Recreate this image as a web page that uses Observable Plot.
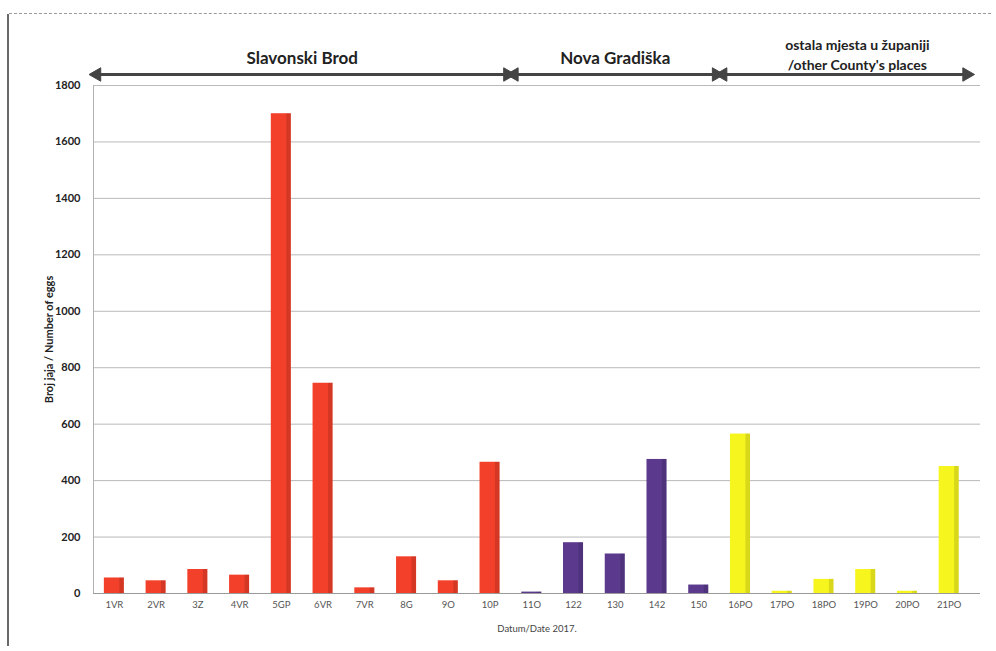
<!DOCTYPE html>
<html>
<head>
<meta charset="utf-8">
<script src="https://cdn.jsdelivr.net/npm/d3@7"></script>
<script src="https://cdn.jsdelivr.net/npm/@observablehq/plot@0.6"></script>
<style>
  body { margin: 0; background: #fff; }
  #chart { position: relative; width: 996px; height: 651px; overflow: hidden; }
  #frame-top { position: absolute; left: 9px; top: 13px; width: 982px; border-top: 1px dashed #9a9a9a; }
  #frame-left { position: absolute; left: 7px; top: 14px; height: 632px; border-left: 2px solid #6a6a6a; }
  #chart svg { position: absolute; left: 0; top: 0; font-family: Lato, "Open Sans", sans-serif; }
  g[aria-label="y-axis tick label"] text { font-weight: bold; fill: #222; }
  g[aria-label="y-axis label"] text { font-weight: bold; fill: #222; }
  g[aria-label="x-axis tick label"] text { fill: #555; }
  g[aria-label="x-axis label"] text { fill: #444; }
</style>
</head>
<body>
<div id="chart"><div id="frame-top"></div><div id="frame-left"></div></div>
<script>
const categories = ["1VR","2VR","3Z","4VR","5GP","6VR","7VR","8G","9O","10P","11O","122","130","142","150","16PO","17PO","18PO","19PO","20PO","21PO"];
const eggs = [55,45,85,65,1700,745,20,130,45,465,5,180,140,475,30,565,8,50,85,8,450];
const groupNames = ["Slavonski Brod","Nova Gradiška","ostala mjesta u županiji\n/other County's places"];
const groupFirst = [0,10,15];
const groupLast = [9,14,20];
const groupColors = ["#f2402b","#5b3a8e","#f7f51e"];
const yTicks = [0,200,400,600,800,1000,1200,1400,1600,1800];

const groupOf = i => groupFirst.findIndex((f, g) => i >= f && i <= groupLast[g]);
const data = categories.map((c, i) => ({i, cat: c, eggs: eggs[i], group: groupOf(i)}));
const groups = groupNames.map((name, g) => ({name, first: groupFirst[g], last: groupLast[g]}));
const ends = groups.flatMap(g => [
  {x: g.first - 0.42, dir: -90},
  {x: g.last + 0.42, dir: 90}
]);

const plot = Plot.plot({
  width: 996,
  height: 651,
  marginLeft: 93,
  marginRight: 16,
  marginTop: 85,
  marginBottom: 58,
  style: {fontFamily: "Lato, 'Open Sans', sans-serif", background: "transparent"},
  x: {domain: [-0.5, 20.75], axis: null},
  y: {domain: [0, 1800], axis: null},
  marks: [
    Plot.gridY(yTicks, {stroke: "#b9b9b9", strokeOpacity: 1, strokeWidth: 1}),
    Plot.ruleY([0], {stroke: "#9a9a9a", strokeWidth: 1.2}),
    Plot.ruleX([-0.5], {stroke: "#b0b0b0"}),
    Plot.rectY(data, {
      x1: d => d.i - 0.24, x2: d => d.i + 0.24, y: "eggs",
      fill: d => groupColors[d.group]
    }),
    Plot.rectY(data, {
      x1: d => d.i + 0.13, x2: d => d.i + 0.24, y: "eggs",
      fill: "#000", fillOpacity: 0.12
    }),
    Plot.axisY(yTicks, {
      tickSize: 0, tickPadding: 13, fontSize: 11,
      tickFormat: d => String(d),
      label: "Broj jaja / Number of eggs", labelAnchor: "center", labelOffset: 48, labelArrow: "none"
    }),
    Plot.axisX(data.map(d => d.i), {
      tickSize: 0, tickPadding: 8, fontSize: 9.5,
      tickFormat: i => categories[i],
      label: "Datum/Date 2017.", labelAnchor: "center", labelOffset: 38, labelArrow: "none"
    }),
    Plot.link(groups, {
      x1: d => d.first - 0.36, x2: d => d.last + 0.36,
      y1: () => 1800, y2: () => 1800, dy: -11,
      stroke: "#444", strokeWidth: 3
    }),
    Plot.dot(ends, {
      x: "x", y: () => 1800, dy: -11, rotate: "dir",
      symbol: "triangle", r: 5, fill: "#444", stroke: "#444", strokeWidth: 1
    }),
    Plot.text(groups.slice(0, 2), {
      x: d => (d.first + d.last) / 2, y: () => 1800, dy: -27,
      text: "name", fontSize: 17, fontWeight: "bold", fill: "#222"
    }),
    Plot.text(groups.slice(2), {
      x: d => (d.first + d.last) / 2 + 0.3, y: () => 1800, dy: -32,
      text: "name", fontSize: 14, fontWeight: "bold", fill: "#222", lineHeight: 1.45
    })
  ]
});
document.getElementById("chart").appendChild(plot);
</script>
</body>
</html>
